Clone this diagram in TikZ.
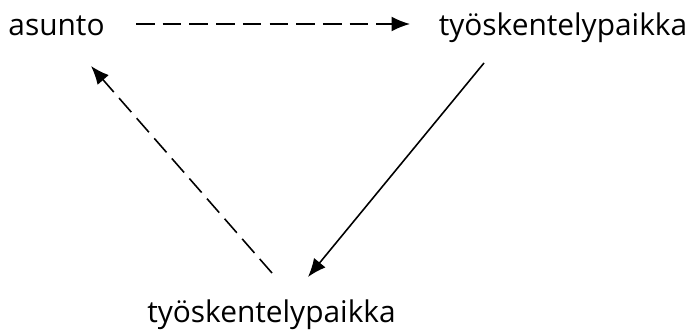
\documentclass[tikz,border=0pt]{standalone}
\usepackage{fontspec}
\setmainfont{Open Sans}
\usetikzlibrary{arrows.meta}
\begin{document}
\begin{tikzpicture}[
        every node/.style={inner sep=0pt, anchor=base, font=\fontsize{17}{20}\selectfont},
        link/.style={line width=0.9pt, -{Latex[length=10.5pt, width=8.5pt]}},
        dashlink/.style={link, dash pattern=on 10.6pt off 4.6pt}
    ]
        \useasboundingbox (0, 0) rectangle (13.9, 6.72);
        \begin{scope}
            \node (home) at (1.13, 6.0) {asunto};
            \node (work1) at (11.26, 6.0) {työskentelypaikka};
            \node (work2) at (5.43, 0.26) {työskentelypaikka};
        \end{scope}
        \begin{scope}
            \coordinate (h-out) at (2.72, 6.24);
            \coordinate (w1-in) at (8.2, 6.24);
            \coordinate (w1-out) at (9.68, 5.46);
            \coordinate (w2-in) at (6.16, 1.18);
            \coordinate (w2-out) at (5.44, 1.26);
            \coordinate (h-in) at (1.82, 5.4);
        \end{scope}
        \begin{scope}
            \path [dashlink] (h-out) edge (w1-in);
            \path [link] (w1-out) edge (w2-in);
            \path [dashlink] (w2-out) edge (h-in);
        \end{scope}
    \end{tikzpicture}
\end{document}
